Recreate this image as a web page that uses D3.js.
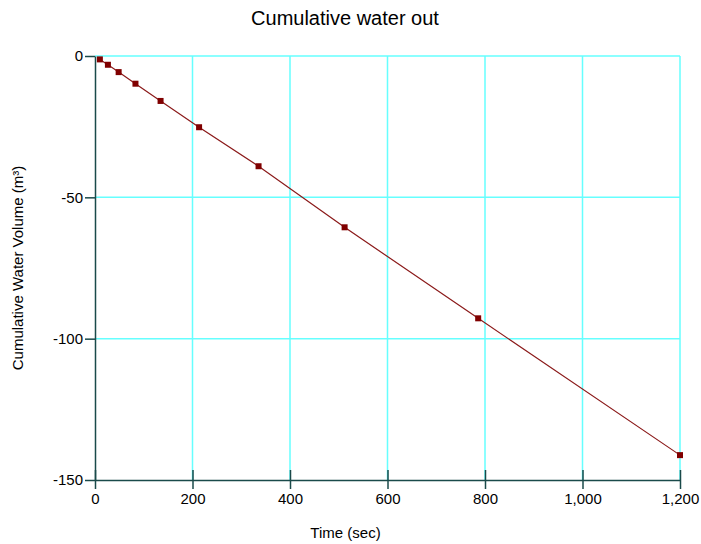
<!DOCTYPE html>
<html>
<head>
<meta charset="utf-8">
<script src="https://cdn.jsdelivr.net/npm/d3@7"></script>
<style>
  body { margin: 0; background: #fff; }
  text { font-family: "Liberation Sans", Arial, sans-serif; fill: #000; }
</style>
</head>
<body>
<div id="chart"></div>
<script>
// Data
var times = [10, 26.5, 48.5, 83, 134.5, 213.5, 335.5, 512, 786, 1200];
var volumes = [-1.2, -3.1, -5.7, -9.8, -15.9, -25.2, -39.0, -60.6, -92.8, -141.2];
var xTicks = [0, 200, 400, 600, 800, 1000, 1200];
var yTicks = [0, -50, -100, -150];

var width = 701,
    height = 544;
var margin = {top: 56, right: 21, bottom: 64, left: 95};

var svg = d3.select("#chart").append("svg")
    .attr("width", width)
    .attr("height", height);

var x = d3.scaleLinear()
    .domain([0, 1200])
    .range([margin.left, width - margin.right]);

var y = d3.scaleLinear()
    .domain([0, -150])
    .range([margin.top, height - margin.bottom]);

var gridColor = "#66ffff",
    axisColor = "#1a4a4a";

// grid
svg.append("g")
    .selectAll("line")
    .data(xTicks.slice(1))
    .enter().append("line")
    .attr("x1", function(d) { return x(d); })
    .attr("x2", function(d) { return x(d); })
    .attr("y1", y(0))
    .attr("y2", y(-150))
    .attr("stroke", gridColor)
    .attr("stroke-width", 1.5);

svg.append("g")
    .selectAll("line")
    .data(yTicks.slice(0, 3))
    .enter().append("line")
    .attr("x1", x(0))
    .attr("x2", x(1200))
    .attr("y1", function(d) { return y(d); })
    .attr("y2", function(d) { return y(d); })
    .attr("stroke", gridColor)
    .attr("stroke-width", 1.5);

// axes
var xAxis = svg.append("g")
    .attr("transform", "translate(0," + y(-150) + ")")
    .call(d3.axisBottom(x)
        .tickValues(xTicks)
        .tickSizeInner(9)
        .tickSizeOuter(0)
        .tickPadding(4)
        .tickFormat(d3.format(",")));

xAxis.selectAll(".tick line")
    .attr("y1", -10);

var yAxis = svg.append("g")
    .attr("transform", "translate(" + x(0) + ",0)")
    .call(d3.axisLeft(y)
        .tickValues(yTicks)
        .tickSizeInner(10)
        .tickSizeOuter(0)
        .tickPadding(2)
        .tickFormat(function(d) { return String(d); }));

svg.selectAll(".domain, .tick line")
    .attr("stroke", axisColor)
    .attr("stroke-width", 1.5);

svg.selectAll(".tick text")
    .attr("font-size", 15)
    .attr("font-family", "Liberation Sans, Arial, sans-serif")
    .attr("fill", "#000");

// line + markers
var line = d3.line()
    .x(function(d, i) { return x(times[i]); })
    .y(function(d) { return y(d); });

svg.append("path")
    .datum(volumes)
    .attr("fill", "none")
    .attr("stroke", "#8b1a1a")
    .attr("stroke-width", 1.2)
    .attr("d", line);

svg.append("g")
    .selectAll("rect")
    .data(volumes)
    .enter().append("rect")
    .attr("x", function(d, i) { return x(times[i]) - 3; })
    .attr("y", function(d) { return y(d) - 3; })
    .attr("width", 6)
    .attr("height", 6)
    .attr("fill", "#800000");

// titles
svg.append("text")
    .attr("x", 345)
    .attr("y", 25)
    .attr("text-anchor", "middle")
    .attr("font-size", 20)
    .text("Cumulative water out");

svg.append("text")
    .attr("x", (x(0) + x(1200)) / 2 - 42)
    .attr("y", 538)
    .attr("text-anchor", "middle")
    .attr("font-size", 15)
    .text("Time (sec)");

svg.append("text")
    .attr("transform", "translate(23," + ((y(0) + y(-150)) / 2) + ") rotate(-90)")
    .attr("text-anchor", "middle")
    .attr("font-size", 15)
    .text("Cumulative Water Volume (m³)");
</script>
</body>
</html>
